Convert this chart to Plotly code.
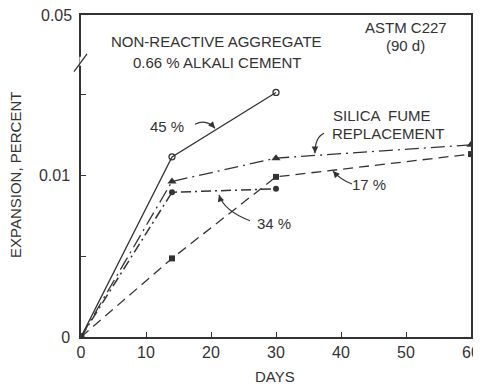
import plotly.graph_objects as go

# ---- data ----
s45_days = [0, 14, 30]
s45 = [0, 0.01114, 0.01512]          # 45 % silica fume (open circles, solid)
sfr_days = [0, 14, 30, 60]
sfr = [0, 0.00962, 0.01106, 0.01188]  # silica fume replacement (triangles, long dash-dot)
s34_days = [0, 14, 30]
s34 = [0, 0.00895, 0.00916]          # 34 % (filled circles, dash-dot)
s17_days = [0, 14, 30, 60]
s17 = [0, 0.00486, 0.00990, 0.01131] # 17 % (filled squares, dashed)

x_ticks = [0, 10, 20, 30, 40, 50, 60]
y_top = 0.01991                      # broken axis: top of plot is labelled 0.05
y_tickvals = [0, 0.005, 0.01, 0.015]
y_ticktext = ["0", "", "0.01", ""]
y_top_label = "0.05"

INK = "#333333"
FONT = "Liberation Sans"
FS = 15

W, H = 481, 389
OFF = 8  # page body margin
# plot area in screenshot pixels: x 81..471, y 13..337
PL, PRt, PT, PB = 81, 471, 13, 337
L = PL - OFF
T = PT - OFF
PW = PRt - PL
PH = PB - PT
R = W - L - PW
B = H - T - PH


def px(xs):
    return (xs - PL) / PW


def py(ys):
    return (PB - ys) / PH


fig = go.Figure()

fig.add_trace(go.Scatter(
    x=s45_days, y=s45, mode="lines+markers",
    line=dict(color=INK, width=1.3),
    marker=dict(symbol="circle-open", size=6, color=INK, line=dict(width=1.3)),
    name="45 %"))
fig.add_trace(go.Scatter(
    x=sfr_days, y=sfr, mode="lines+markers",
    line=dict(color=INK, width=1.3, dash="14px,5px,2px,5px"),
    marker=dict(symbol="triangle-up", size=8, color=INK),
    name="SF"))
fig.add_trace(go.Scatter(
    x=s34_days, y=s34, mode="lines+markers",
    line=dict(color=INK, width=1.5, dash="10px,4px,2px,4px"),
    marker=dict(symbol="circle", size=6, color=INK),
    name="34 %"))
fig.add_trace(go.Scatter(
    x=s17_days, y=s17, mode="lines+markers",
    line=dict(color=INK, width=1.3, dash="10px,6px"),
    marker=dict(symbol="square", size=6, color=INK),
    name="17 %"))

ann = []


def text(s, x, y, size=FS, **kw):
    ann.append(dict(text=s, x=px(x), y=py(y), xref="paper", yref="paper",
                    showarrow=False, font=dict(family=FONT, size=size, color=INK),
                    xanchor="center", yanchor="middle", **kw))


text("NON-REACTIVE AGGREGATE", 216, 40)
text("0.66 % ALKALI CEMENT", 217, 61)
text("ASTM C227", 406, 26)
text("(90 d)", 405, 44)
text("45 %", 167, 125)
text("SILICA  FUME", 382, 114)
text("REPLACEMENT", 388, 132)
text("17 %", 369, 184)
text("34 %", 274, 223)
text("DAYS", 275, 377)
text("EXPANSION, PERCENT", 15, 174, textangle=-90)
text(y_top_label, 56, 14, size=16)

shapes = []


def curve(p0, c, p1):
    path = "M {:.4f},{:.4f} Q {:.4f},{:.4f} {:.4f},{:.4f}".format(
        px(p0[0]), py(p0[1]), px(c[0]), py(c[1]), px(p1[0]), py(p1[1]))
    shapes.append(dict(type="path", path=path, xref="paper", yref="paper",
                       line=dict(color=INK, width=1.2)))
    dx, dy = p1[0] - c[0], p1[1] - c[1]
    n = (dx * dx + dy * dy) ** 0.5
    ann.append(dict(text="", x=px(p1[0]), y=py(p1[1]), xref="paper", yref="paper",
                    showarrow=True, arrowhead=2, arrowsize=1.1, arrowwidth=1.2,
                    arrowcolor=INK, ax=-dx / n * 6, ay=-dy / n * 6))


curve((195, 123), (206, 117), (215, 127))
curve((324, 132), (315, 136), (315, 152))
curve((352, 183), (341, 179), (333, 170))
curve((250, 220), (224, 210), (219, 194))

# axis break mark
shapes.append(dict(type="line", xref="paper", yref="paper",
                   x0=0, x1=0, y0=py(64), y1=py(55), line=dict(color="white", width=3)))
shapes.append(dict(type="line", xref="paper", yref="paper",
                   x0=px(74), x1=px(87), y0=py(70), y1=py(52), line=dict(color=INK, width=1.3)))

fig.update_layout(
    width=W, height=H, margin=dict(l=L, r=R, t=T, b=B),
    paper_bgcolor="white", plot_bgcolor="white", showlegend=False,
    annotations=ann, shapes=shapes,
    font=dict(family=FONT, size=FS, color=INK),
)
fig.update_xaxes(range=[0, 60], tickvals=x_ticks, ticks="inside", ticklen=5,
                 tickcolor=INK, tickwidth=1.2, showline=True, linecolor=INK,
                 linewidth=1.5, mirror=True, showgrid=False, zeroline=False,
                 tickfont=dict(family=FONT, size=16, color=INK))
fig.update_yaxes(range=[0, y_top], tickvals=y_tickvals, ticktext=y_ticktext,
                 ticks="inside", ticklen=5, tickcolor=INK, tickwidth=1.2,
                 showline=True, linecolor=INK, linewidth=1.5, mirror=True,
                 showgrid=False, zeroline=False, ticklabelstandoff=6,
                 tickfont=dict(family=FONT, size=16, color=INK))

fig.write_html("out.html")
